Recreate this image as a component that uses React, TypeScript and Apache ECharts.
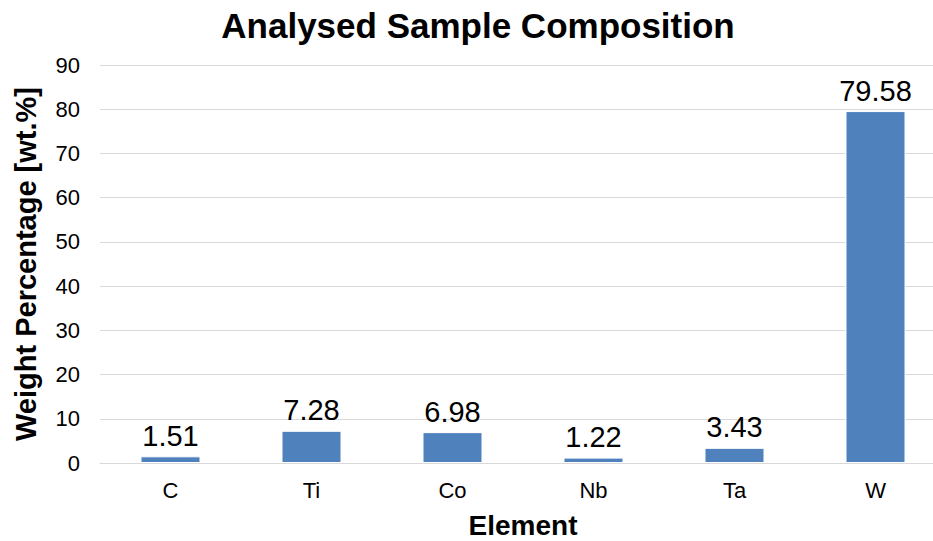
import React, { useEffect, useRef } from "react";
import * as echarts from "echarts";

const categories = ["C", "Ti", "Co", "Nb", "Ta", "W"];
const values = [1.51, 7.28, 6.98, 1.22, 3.43, 79.58];
const yMin = 0;
const yMax = 90;
const yInterval = 10;

const FONT = "'Liberation Sans', Arial, sans-serif";

export default function App() {
  const ref = useRef<HTMLDivElement>(null);
  useEffect(() => {
    document.body.style.margin = "0";
    if (!ref.current) return;
    const chart = echarts.init(ref.current, null, { renderer: "svg" });
    chart.setOption({
      animation: false,
      backgroundColor: "#ffffff",
      textStyle: { fontFamily: FONT },
      graphic: [
        {
          type: "text",
          x: 478,
          y: 25,
          style: {
            text: "Analysed Sample Composition",
            font: `bold 35px ${FONT}`,
            fill: "#000000",
            textAlign: "center",
            textVerticalAlign: "middle",
          },
        },
      ],
      grid: {
        left: 100,
        right: -13,
        top: 65,
        bottom: 78,
        containLabel: false,
        outerBoundsMode: "none",
      },
      xAxis: {
        type: "category",
        data: categories,
        name: "Element",
        nameLocation: "middle",
        nameGap: 48,
        nameTextStyle: { fontFamily: FONT, fontSize: 28, fontWeight: "bold", color: "#000" },
        axisLine: { show: true, lineStyle: { color: "#d9d9d9", width: 1 } },
        axisTick: { show: false },
        axisLabel: { fontFamily: FONT, fontSize: 22, color: "#000", margin: 16 },
      },
      yAxis: {
        type: "value",
        min: yMin,
        max: yMax,
        interval: yInterval,
        name: "Weight Percentage [wt.%]",
        nameLocation: "middle",
        nameGap: 60,
        nameTextStyle: { fontFamily: FONT, fontSize: 29, fontWeight: "bold", color: "#000" },
        axisLine: { show: false },
        axisTick: { show: false },
        axisLabel: { fontFamily: FONT, fontSize: 22, color: "#000", margin: 20 },
        splitLine: { lineStyle: { color: "#d9d9d9", width: 1 } },
      },
      series: [
        {
          type: "bar",
          data: values,
          barWidth: 60,
          itemStyle: { color: "#4f81bd", borderColor: "#ffffff", borderWidth: 1 },
          label: {
            show: true,
            position: "top",
            distance: 6,
            fontFamily: FONT,
            fontSize: 29,
            color: "#000",
            formatter: (p: any) => p.value.toFixed(2),
          },
        },
      ],
    });
    return () => chart.dispose();
  }, []);
  return <div ref={ref} style={{ width: 933, height: 541 }} />;
}
